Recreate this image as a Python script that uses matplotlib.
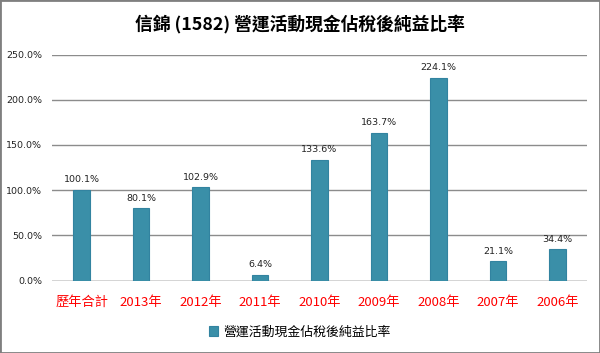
import matplotlib
matplotlib.use("Agg")
import matplotlib.pyplot as plt
from matplotlib.patches import Rectangle

plt.rcParams['font.family'] = ['Noto Sans CJK TC', 'DejaVu Sans']

categories = ['歷年合計', '2013年', '2012年', '2011年', '2010年', '2009年', '2008年', '2007年', '2006年']
values = [100.1, 80.1, 102.9, 6.4, 133.6, 163.7, 224.1, 21.1, 34.4]
yticks = [0, 50, 100, 150, 200, 250]
series_name = '營運活動現金佔稅後純益比率'
title = '信錦 (1582) 營運活動現金佔稅後純益比率'

fig = plt.figure(figsize=(6.0, 3.53), dpi=100)
ax = fig.add_axes([52/600, 1-280.5/353, 535/600, (280.5-54.5)/353])

x = list(range(len(categories)))
ax.bar(x, values, width=0.28, color='#3A8FA8', edgecolor='#3283A0', linewidth=0.8, zorder=3,
       label=series_name)
for xi, v in zip(x, values):
    ax.annotate(f'{v:.1f}%', (xi, v), xytext=(0, 4), textcoords='offset points',
                ha='center', va='bottom', fontsize=6.8, family=['DejaVu Sans'], color='#222222')

ax.set_xlim(-0.5, len(categories) - 0.5)
ax.set_ylim(0, 250)
ax.set_yticks(yticks)
ax.set_yticklabels([f'{t:.1f}%' for t in yticks], fontsize=6.8, family=['DejaVu Sans'],
                   color='#222222')
ax.yaxis.grid(True, color='#8C8C8C', linewidth=1.0, zorder=0)
ax.set_xticks(x)
ax.set_xticklabels(categories, fontsize=9.5, color='red')
ax.tick_params(axis='both', length=0)
ax.tick_params(axis='x', pad=11)
ax.tick_params(axis='y', pad=7)
for s in ax.spines.values():
    s.set_visible(False)
ax.axhline(0, color='#8C8C8C', linewidth=1.0, zorder=2)

fig.text(0.5, 1-24/353, title, ha='center', va='center', fontsize=12.8, fontweight='bold')

leg = fig.legend(loc='center', bbox_to_anchor=(0.5, 1-332/353), frameon=False, fontsize=9.3,
                 handlelength=0.7, handleheight=0.7, handletextpad=0.4)

fig.patches.append(Rectangle((0, 0), 1, 1, transform=fig.transFigure, fill=False,
                             edgecolor='#7F7F7F', linewidth=2))
fig.savefig('out.png', dpi=100)
